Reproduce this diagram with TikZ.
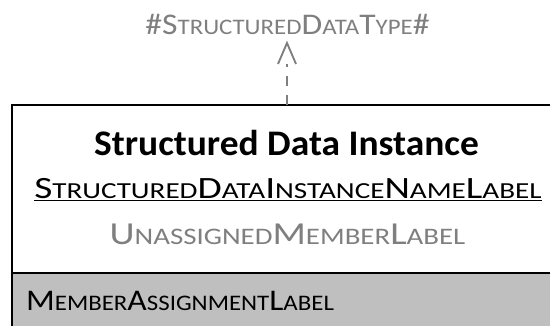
\documentclass[tikz,border=0pt]{standalone}
\usepackage{fontspec}
\usepackage{graphicx}
\setmainfont{Carlito}
\usetikzlibrary{arrows.meta}
\definecolor{txtgray}{HTML}{7F7F7F}
\definecolor{fillgray}{HTML}{BFBFBF}
\makeatletter
\newdimen\scdim
\newcommand\lsc[1]{{\scdim=\f@size pt\scdim=0.74\scdim\fontsize{\the\scdim}{\the\scdim}\selectfont\MakeUppercase{#1}}}
\makeatother
\tikzset{
  lbl/.style={inner sep=0pt, anchor=base},
  frame/.style={draw=black, line width=2pt},
  depline/.style={draw=txtgray, line width=1.9pt, dash pattern=on 10pt off 9pt},
  deptip/.style={draw=txtgray, line width=1.9pt, solid, line join=miter},
}
\begin{document}
\begin{tikzpicture}[x=1pt,y=-1pt]
\useasboundingbox (0,0) rectangle (550,326);
\begin{scope}
\clip (0,0) rectangle (550,326);
\fill[fillgray] (12,273) rectangle (570,340);
\draw[frame] (12,340) -- (12,105) -- (570,105);
\draw[frame] (12,273) -- (570,273);
\end{scope}
\coordinate (boxtop) at (287,105);
\node[lbl, text=txtgray, font=\fontsize{30}{30}\selectfont] (type) at (287.5,34.3)
  {\scalebox{1.12}[1]{\#S\lsc{tructured}D\lsc{ata}T\lsc{ype}\#}};
\coordinate (tip) at (287,43);
\coordinate (tipbase) at (287,64);
\node[lbl, font=\fontsize{36}{36}\bfseries\selectfont] (title) at (286.5,156)
  {\scalebox{1.04}[1]{Structured Data Instance}};
\node[lbl, font=\fontsize{31}{31}\selectfont] (name) at (288,198.5)
  {\scalebox{1.27}[1]{\underline{S\lsc{tructured}D\lsc{ata}I\lsc{nstance}N\lsc{ame}L\lsc{abel}}}};
\node[lbl, text=txtgray, font=\fontsize{32}{32}\selectfont] (unass) at (287.5,244.3)
  {\scalebox{1.22}[1]{U\lsc{nassigned}M\lsc{ember}L\lsc{abel}}};
\node[lbl, anchor=base west, font=\fontsize{30}{30}\selectfont] (member) at (26,311)
  {\scalebox{1.12}[1]{M\lsc{ember}A\lsc{ssignment}L\lsc{abel}}};
\draw[depline] (boxtop) -- (tipbase);
\draw[deptip] ([xshift=-9pt]tipbase) -- (tip) -- ([xshift=9pt]tipbase);
\end{tikzpicture}
\end{document}
